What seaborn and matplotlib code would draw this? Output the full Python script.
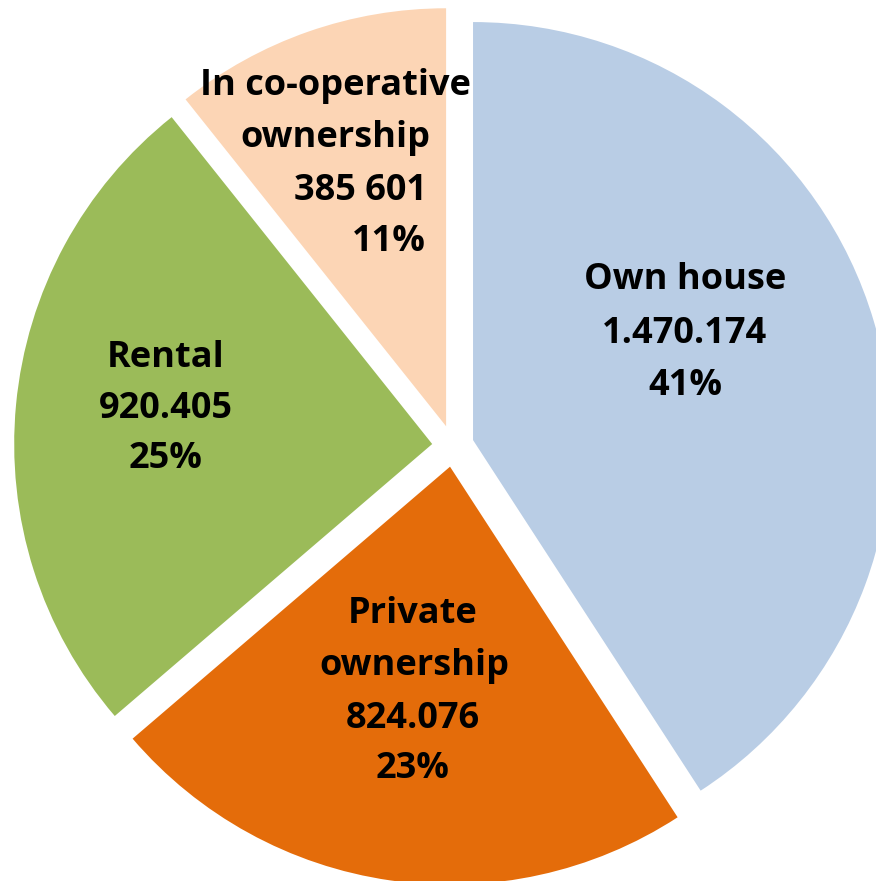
import matplotlib
matplotlib.use("Agg")
import matplotlib.pyplot as plt
import seaborn as sns

# data
categories = ["Own house", "Private ownership", "Rental", "In co-operative ownership"]
values = [1470174, 824076, 920405, 385601]
value_labels = ["1.470.174", "824.076", "920.405", "385 601"]
percent_labels = ["41%", "23%", "25%", "11%"]
colors = ["#B9CDE5", "#E46C0A", "#9BBB59", "#FCD5B5"]

sns.set_theme(style="white")
plt.rcParams['font.family'] = ['Open Sans', 'DejaVu Sans']

W, H = 876, 881
R_PX = 418          # pie radius in pixels
CX, CY = 453, 446   # pie centre in pixels (from top-left)

fig = plt.figure(figsize=(W / 100, H / 100), dpi=100)
ax = fig.add_axes([0, 0, 1, 1])

ax.pie(values, colors=colors, startangle=90, counterclock=False,
       explode=[0.05] * len(values), radius=1.0,
       wedgeprops=dict(linewidth=0))

ax.set_xlim(-CX / R_PX, (W - CX) / R_PX)
ax.set_ylim(-(H - CY) / R_PX, CY / R_PX)
ax.set_aspect("equal")
ax.axis("off")

# label text lines per slice
label_lines = [
    ["Own house", value_labels[0], percent_labels[0]],
    ["Private", "ownership", value_labels[1], percent_labels[1]],
    ["Rental", value_labels[2], percent_labels[2]],
    ["In co-operative", "ownership", value_labels[3], percent_labels[3]],
]
# layout: per-line centre x and baseline y in pixels
label_x = [[685, 685, 685], [413, 414, 413, 413], [166, 166, 166], [335, 335, 360, 389]]
label_base = [[289, 343, 395], [623, 675, 728, 778], [367, 418, 468], [95, 147, 200, 251]]

for lines, xs, ys in zip(label_lines, label_x, label_base):
    for line, px, py in zip(lines, xs, ys):
        fig.text(px / W, 1 - py / H, line, ha="center", va="baseline",
                 fontsize=26, fontweight="bold", color="black")

fig.savefig("out.png", dpi=100, facecolor="white")
